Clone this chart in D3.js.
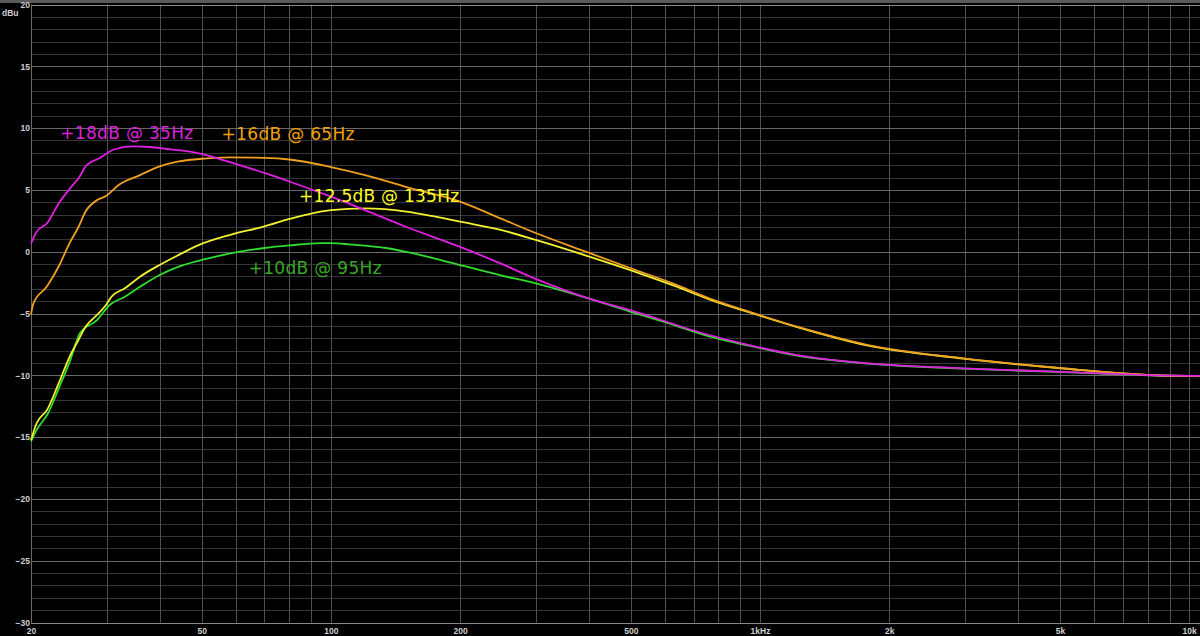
<!DOCTYPE html>
<html>
<head>
<meta charset="utf-8">
<script src="https://cdn.jsdelivr.net/npm/d3@7"></script>
<style>
  html, body { margin: 0; padding: 0; background: #000; }
  svg { display: block; }
</style>
</head>
<body>
<svg id="chart" width="1200" height="636"></svg>
<script>
// ---------- data ----------
const yTicks = [20, 15, 10, 5, 0, -5, -10, -15, -20, -25, -30];
const xTickValues = [20, 50, 100, 200, 500, 1000, 2000, 5000, 10000];
const xTickLabels = ["20", "50", "100", "200", "500", "1kHz", "2k", "5k", "10k"];
const xGridValues = [20,30,40,50,60,70,80,90,100,200,300,400,500,600,700,800,900,
                     1000,2000,3000,4000,5000,6000,7000,8000,9000,10000];

// series: [frequency Hz, level dBu]
const seriesGreen = [
  [20,-15.35],[20.6,-14.44],[21.9,-13.09],[23.3,-10.93],[24.7,-8.77],[26,-6.6],[28.5,-5.53],
  [30.5,-4.31],[33.1,-3.64],[35.9,-2.83],[39.9,-1.88],[44.2,-1.21],[50,-0.67],[60,-0.06],
  [70,0.3],[80,0.51],[94.6,0.69],[100,0.69],[110.6,0.59],[135.5,0.28],[150,-0.02],[173,-0.51],
  [200,-1.08],[250,-1.93],[300,-2.56],[400,-3.8],[500,-4.87],[600,-5.7],[761,-6.85],
  [942,-7.6],[1220,-8.4],[1786,-9.05],[2980,-9.46],[5100,-9.74],[8240,-10.02],[10600,-10.06]
];
const seriesYellow = [
  [20,-15.25],[20.6,-13.9],[21.8,-12.8],[23.2,-10.66],[24.6,-8.5],[25.8,-7.15],[26.8,-6.07],
  [28.5,-5.12],[29.9,-4.31],[30.8,-3.64],[33.1,-2.96],[35.9,-2.02],[39.9,-1.07],[44.2,-0.26],
  [49.3,0.55],[58,1.35],[70,2.05],[80,2.65],[100,3.37],[120,3.51],[150,3.25],[173,2.87],
  [200,2.43],[250,1.75],[300,0.95],[400,-0.4],[524,-1.75],[630,-2.75],
  [761,-3.85],[942,-4.9],[1220,-6.1],[1786,-7.6],[2980,-8.65],[5100,-9.45],[8240,-9.98],[10600,-10.05]
];
const seriesOrange = [
  [20,-5.1],[20.25,-4.2],[21.8,-2.8],[23.2,-1.2],[24.6,0.7],[25.8,2.0],[26.8,3.25],[28.6,4.2],
  [29.9,4.5],[32,5.4],[35.9,6.2],[39.9,6.9],[44.2,7.3],[49.3,7.5],[58,7.63],[70,7.59],[80,7.46],
  [100,6.85],[120,6.2],[150,5.23],[200,4.05],[250,2.65],[300,1.51],[400,-0.1],[500,-1.34],
  [630,-2.6],[761,-3.77],[942,-4.85],[1220,-6.07],[1786,-7.55],
  [2980,-8.63],[5100,-9.44],[8240,-9.98],[10600,-10.05]
];
const seriesMagenta = [
  [20,0.65],[20.6,1.6],[21.8,2.3],[23.2,3.9],[24.7,5.15],[26,6.1],[26.8,6.9],[29,7.6],[31.1,8.25],
  [34.5,8.52],[37.9,8.47],[41.5,8.31],[44.7,8.19],[49.6,7.93],[54.1,7.58],[60,7.1],[70,6.37],
  [80,5.68],[100,4.45],[120,3.37],[150,2.0],[200,0.39],[250,-0.99],[300,-2.2],
  [400,-3.8],[500,-4.75],[761,-6.74],[942,-7.55],[1220,-8.36],[1786,-9.04],[2980,-9.44],
  [5095,-9.72],[8240,-10.0],[10600,-10.05]
];

const seriesList = [
  { data: seriesGreen,   color: "#2fdc2f" },
  { data: seriesYellow,  color: "#f2f230" },
  { data: seriesOrange,  color: "#f0a020" },
  { data: seriesMagenta, color: "#e020e0" }
];

// annotation labels: text, anchor frequency, anchor dB (baseline-left)
const labelTexts = ["+18dB @ 35Hz", "+16dB @ 65Hz", "+12.5dB @ 135Hz", "+10dB @ 95Hz"];
const labelFreqs = [23.4, 55.6, 84.3, 64.3];
const labelDbs   = [9.12, 9.04, 4.02, -1.8];
const labelColors = ["#dd22dd", "#f0a010", "#ffff20", "#38a828"];
const labelWidths = [133, 133, 160, 133];

// ---------- chart ----------
const svg = d3.select("#chart");
const W = 1200, H = 636;
svg.append("rect").attr("width", W).attr("height", H).attr("fill", "#000");

const x = d3.scaleLog().domain([20, 10600]).range([31, 1200]);
const y = d3.scaleLinear().domain([-30, 20]).range([622.5, 4.5]);

// top border
svg.append("rect").attr("x", 0).attr("y", 0).attr("width", W).attr("height", 3).attr("fill", "#5a5a5a");

// horizontal minor grid (every 1 dB)
const minorDb = d3.range(-30, 21, 1).filter(d => d % 5 !== 0);
svg.append("g").selectAll("line").data(minorDb).join("line")
  .attr("x1", 31).attr("x2", W)
  .attr("y1", d => Math.round(y(d)) + 0.5).attr("y2", d => Math.round(y(d)) + 0.5)
  .attr("stroke", "#353535").attr("stroke-width", 1);

// vertical grid
svg.append("g").selectAll("line").data(xGridValues).join("line")
  .attr("x1", d => Math.round(x(d)) + 0.5).attr("x2", d => Math.round(x(d)) + 0.5)
  .attr("y1", y(20)).attr("y2", y(-30))
  .attr("stroke", "#505050").attr("stroke-width", 1);

// horizontal major grid (every 5 dB)
svg.append("g").selectAll("line").data(yTicks).join("line")
  .attr("x1", 31).attr("x2", W)
  .attr("y1", d => Math.round(y(d)) + 0.5).attr("y2", d => Math.round(y(d)) + 0.5)
  .attr("stroke", d => (d === 20 || d === -30) ? "#8a8a8a" : "#686868").attr("stroke-width", 1);

// left axis line
svg.append("line").attr("x1", 31.5).attr("x2", 31.5).attr("y1", y(20)).attr("y2", y(-30))
  .attr("stroke", "#6a6a6a");

// y axis
const yAxis = d3.axisLeft(y).tickValues(yTicks).tickSize(0).tickPadding(1).tickFormat(d3.format("d"));
const gy = svg.append("g").attr("transform", "translate(31,0)").call(yAxis);
gy.select(".domain").remove();
gy.selectAll("text")
  .attr("fill", "#d0d0d0").attr("font-family", "Liberation Sans, Arial, sans-serif")
  .attr("font-weight", "bold").attr("font-size", "8.5px");

// x axis
const xAxis = d3.axisBottom(x).tickValues(xTickValues).tickSize(0).tickPadding(5)
  .tickFormat((d, i) => xTickLabels[i]);
const gx = svg.append("g").attr("transform", `translate(0,${y(-30)})`).call(xAxis);
gx.select(".domain").remove();
gx.selectAll("text")
  .attr("fill", "#d0d0d0").attr("font-family", "Liberation Sans, Arial, sans-serif")
  .attr("font-weight", "bold").attr("font-size", "8.5px");

// unit label
svg.append("text").attr("x", 2).attr("y", 16).text("dBu")
  .attr("fill", "#d0d0d0").attr("font-family", "Liberation Sans, Arial, sans-serif")
  .attr("font-weight", "bold").attr("font-size", "8.5px");

// curves
const line = d3.line().x(d => x(d[0])).y(d => y(d[1])).curve(d3.curveMonotoneX);
svg.append("g").selectAll("path").data(seriesList).join("path")
  .attr("d", s => line(s.data))
  .attr("fill", "none").attr("stroke", s => s.color).attr("stroke-width", 1.8)
  .attr("stroke-linejoin", "round");

// annotation labels
svg.append("g").selectAll("text").data(labelTexts).join("text")
  .attr("x", (d, i) => x(labelFreqs[i]))
  .attr("y", (d, i) => y(labelDbs[i]))
  .attr("fill", (d, i) => labelColors[i])
  .attr("font-family", "DejaVu Sans, Verdana, sans-serif")
  .attr("font-size", "17px")
  .attr("textLength", (d, i) => labelWidths[i])
  .attr("lengthAdjust", "spacing")
  .text(d => d);
</script>
</body>
</html>
